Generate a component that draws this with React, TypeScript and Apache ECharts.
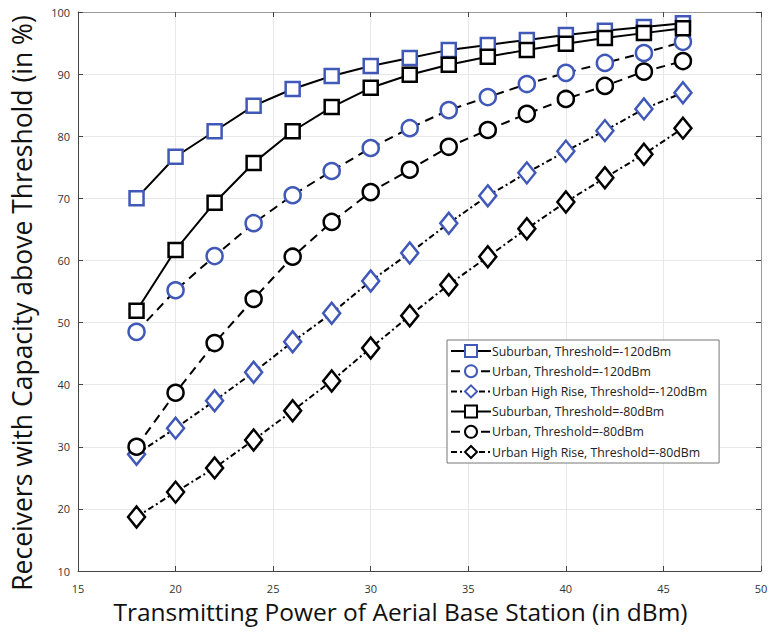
import React, { useEffect, useRef } from "react";
import * as echarts from "echarts";

const xValues = [18, 20, 22, 24, 26, 28, 30, 32, 34, 36, 38, 40, 42, 44, 46];
const suburban120 = [70, 76.7, 80.8, 84.9, 87.6, 89.7, 91.3, 92.6, 93.9, 94.7, 95.5, 96.3, 97.0, 97.6, 98.2];
const urban120 = [48.5, 55.2, 60.7, 66, 70.5, 74.4, 78.1, 81.3, 84.2, 86.3, 88.4, 90.2, 91.8, 93.4, 95.2];
const uhr120 = [28.8, 33, 37.4, 42, 46.9, 51.5, 56.7, 61.2, 66, 70.4, 74.1, 77.6, 80.9, 84.4, 87];
const suburban80 = [51.9, 61.7, 69.3, 75.7, 80.8, 84.7, 87.8, 89.9, 91.5, 92.8, 93.9, 94.9, 95.8, 96.6, 97.4];
const urban80 = [30, 38.7, 46.7, 53.8, 60.6, 66.2, 71, 74.6, 78.3, 81, 83.6, 86, 88.1, 90.4, 92.1];
const uhr80 = [18.7, 22.7, 26.6, 31.1, 35.8, 40.6, 45.9, 51.1, 56.1, 60.6, 65.1, 69.4, 73.3, 77.1, 81.3];

const seriesNames = [
  "Suburban, Threshold=-120dBm",
  "Urban, Threshold=-120dBm",
  "Urban High Rise, Threshold=-120dBm",
  "Suburban, Threshold=-80dBm",
  "Urban, Threshold=-80dBm",
  "Urban High Rise, Threshold=-80dBm",
];

const xTitle = "Transmitting Power of Aerial Base Station (in dBm)";
const yTitle = "Receivers with Capacity above Threshold (in %)";

const BLUE = "#4058b8";
const BLACK = "#000000";
const FONT = "Open Sans";

function pairs(ys: number[]) {
  return xValues.map((x, i) => [x, ys[i]]);
}

function mk(name: string, ys: number[], color: string, symbol: string, dash: any, size: any) {
  return {
    name,
    type: "line",
    data: pairs(ys),
    symbol,
    symbolSize: size,
    showAllSymbol: true,
    lineStyle: { color: BLACK, width: 2, type: dash },
    itemStyle: { color: "#ffffff", borderColor: color, borderWidth: 2.5 },
    emphasis: { disabled: true },
    z: 3,
  };
}

export default function App() {
  const ref = useRef<HTMLDivElement>(null);
  useEffect(() => {
    if (!ref.current) return;
    const chart = echarts.init(ref.current, undefined, { renderer: "svg" });
    const dashed = [9, 6];
    const dashDot = [6, 3, 2, 3];
    const axisCommon = {
      type: "value",
      axisLine: { show: true, lineStyle: { color: "#444", width: 1 } },
      axisTick: { show: true, inside: true, length: 5, lineStyle: { color: "#444" } },
    };
    chart.setOption({
      animation: false,
      backgroundColor: "#ffffff",
      grid: { left: 78, right: 8, top: 12, bottom: 63, containLabel: false, outerBoundsMode: "none" },
      xAxis: [
        {
          ...axisCommon,
          min: 15,
          max: 50,
          interval: 5,
          position: "bottom",
          name: xTitle,
          nameLocation: "middle",
          nameGap: 17,
          nameTextStyle: { fontFamily: FONT, fontSize: 24.5, color: "#111", padding: [0, 38, 0, 0] },
          axisLabel: { fontFamily: FONT, fontSize: 11, color: "#333", margin: 12, hideOverlap: false, showMaxLabel: true },
          splitLine: { show: true, lineStyle: { color: "#e8e8e8", width: 1 } },
        },
        {
          ...axisCommon,
          min: 15,
          max: 50,
          interval: 5,
          position: "top",
          axisLine: { show: true, lineStyle: { color: "#999", width: 1 } },
          axisLabel: { show: false },
          splitLine: { show: false },
        },
      ],
      yAxis: [
        {
          ...axisCommon,
          min: 10,
          max: 100,
          interval: 10,
          position: "left",
          axisLabel: { fontFamily: FONT, fontSize: 11, color: "#333", margin: 8 },
          splitLine: { show: true, lineStyle: { color: "#e8e8e8", width: 1 } },
        },
        {
          ...axisCommon,
          min: 10,
          max: 100,
          interval: 10,
          position: "right",
          axisLine: { show: true, lineStyle: { color: "#999", width: 1 } },
          axisLabel: { show: false },
          splitLine: { show: false },
        },
      ],
      graphic: [
        {
          type: "text",
          x: 22,
          y: 303,
          rotation: Math.PI / 2,
          style: {
            text: yTitle,
            fontFamily: FONT,
            fontSize: 26.5,
            fill: "#111",
            align: "center",
            verticalAlign: "middle",
          },
        },
      ],
      legend: {
        orient: "vertical",
        left: 447,
        top: 340,
        backgroundColor: "#ffffff",
        borderColor: "#777",
        borderWidth: 1,
        borderRadius: 0,
        padding: [4, 12, 4, 3],
        itemWidth: 40,
        itemHeight: 15,
        itemGap: 6.2,
        textStyle: { fontFamily: FONT, fontSize: 12.3, color: "#222", padding: [0, 0, 0, -4] },
        data: seriesNames,
      },
      series: [
        mk(seriesNames[0], suburban120, BLUE, "rect", "solid", 14),
        mk(seriesNames[1], urban120, BLUE, "circle", dashed, 16),
        mk(seriesNames[2], uhr120, BLUE, "diamond", dashDot, [17, 21]),
        mk(seriesNames[3], suburban80, BLACK, "rect", "solid", 14),
        mk(seriesNames[4], urban80, BLACK, "circle", dashed, 16),
        mk(seriesNames[5], uhr80, BLACK, "diamond", dashDot, [17, 21]),
      ],
    });
    return () => chart.dispose();
  }, []);
  return (
    <div style={{ position: "fixed", left: 0, top: 0, width: 769, height: 634 }}>
      <div ref={ref} style={{ width: 769, height: 634 }} />
    </div>
  );
}
